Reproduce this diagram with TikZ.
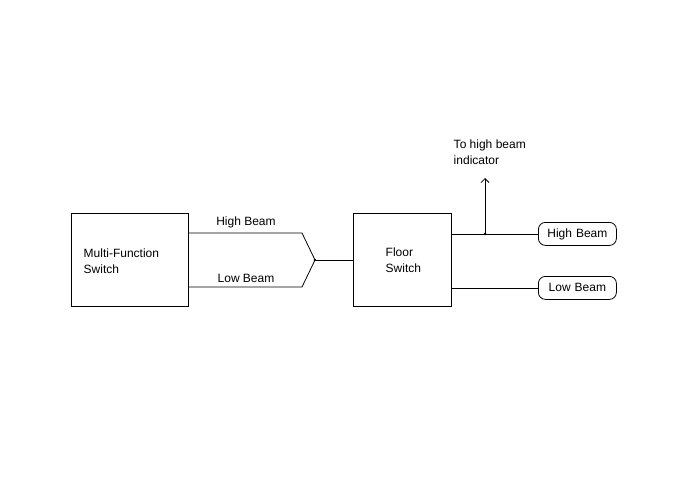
\documentclass[tikz,border=0pt]{standalone}
\usepackage{fontspec}
\setmainfont{Liberation Sans}
\usetikzlibrary{arrows,arrows.meta,shapes,positioning}
\begin{document}
\begin{tikzpicture}[x=1pt,y=-1pt,font=\fontsize{12}{16}\selectfont,line width=0.8pt,
  box/.style={draw,minimum width=117pt,minimum height=93pt,anchor=north west},
  lamp/.style={draw,rounded corners=7pt,minimum width=78pt,minimum height=23pt,anchor=north west},
  lbl/.style={align=left,anchor=west}]
\useasboundingbox (0,0) rectangle (700,500);
\node[box] (mfs) at (71,213) {};
\node[lbl] (mfst) at (80,261) {Multi-Function\\Switch};
\node[box,minimum width=98pt] (fs) at (353,213) {};
\node[lbl] (fst) at (382,260) {Floor\\Switch};
\coordinate (hb1) at (302,233);
\coordinate (lb1) at (302,287);
\coordinate (j) at (315,260);
\node (hbl) at (246,222) {High Beam};
\node (lbl2) at (246,278) {Low Beam};
\draw (mfs.east |- hb1) -- (hb1) -- (j);
\draw (mfs.east |- lb1) -- (lb1) -- (j);
\fill (j) circle (1.4pt);
\draw (j) -- (fs.west |- j);
\node[lamp] (hbn) at (538,222) {High\,\,Beam};
\node[lamp] (lbn) at (538,276) {Low\,\,Beam};
\coordinate (t) at (485,233);
\coordinate (ti) at (485,178);
\draw (fs.east |- hbn.west) -- (hbn.west);
\draw (fs.east |- lbn.west) -- (lbn.west);
\fill (t |- hbn.west) circle (1.4pt);
\draw[-{Straight Barb[length=4pt,width=8pt]}] (t |- hbn.west) -- (ti);
\node[lbl] (tit) at (450,152) {To high beam\\indicator};
\end{tikzpicture}
\end{document}
